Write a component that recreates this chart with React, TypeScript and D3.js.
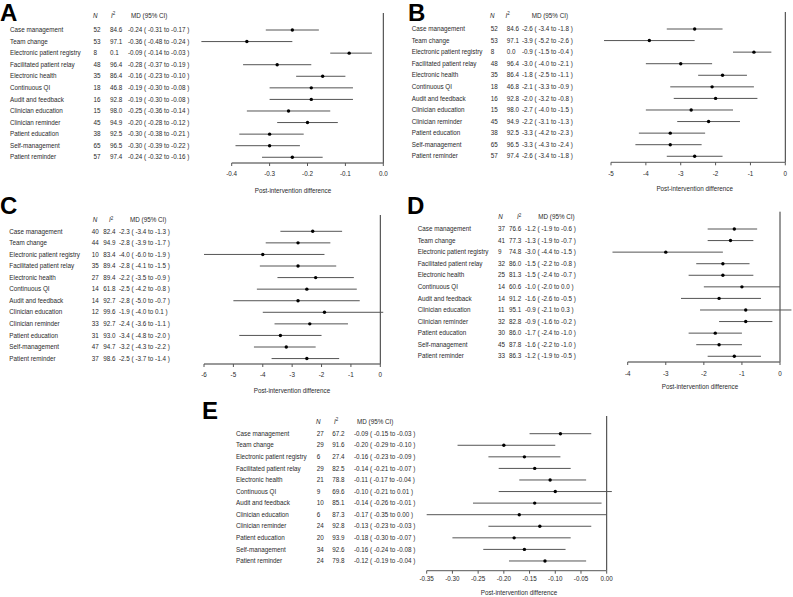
import * as d3 from 'd3';

// shared row labels
const categories = [
  'Case management',
  'Team change',
  'Electronic patient registry',
  'Facilitated patient relay',
  'Electronic health',
  'Continuous QI',
  'Audit and feedback',
  'Clinician education',
  'Clinician reminder',
  'Patient education',
  'Self-management',
  'Patient reminder',
];

// Panel A
const nA = [52, 53, 8, 48, 35, 18, 16, 15, 45, 38, 65, 57];
const i2A = [84.6, 97.1, 0.1, 96.4, 86.4, 46.8, 92.8, 98.0, 94.9, 92.5, 96.5, 97.4];
const mdA = [-0.24, -0.36, -0.09, -0.28, -0.16, -0.19, -0.19, -0.25, -0.2, -0.3, -0.3, -0.24];
const loA = [-0.31, -0.48, -0.14, -0.37, -0.23, -0.3, -0.3, -0.36, -0.28, -0.38, -0.39, -0.32];
const hiA = [-0.17, -0.24, -0.03, -0.19, -0.1, -0.08, -0.08, -0.14, -0.12, -0.21, -0.22, -0.16];
const ticksA = [-0.4, -0.3, -0.2, -0.1, 0];

// Panel B
const nB = [52, 53, 8, 48, 35, 18, 16, 15, 45, 38, 65, 57];
const i2B = [84.6, 97.1, 0.0, 96.4, 86.4, 46.8, 92.8, 98.0, 94.9, 92.5, 96.5, 97.4];
const mdB = [-2.6, -3.9, -0.9, -3.0, -1.8, -2.1, -2.0, -2.7, -2.2, -3.3, -3.3, -2.6];
const loB = [-3.4, -5.2, -1.5, -4.0, -2.5, -3.3, -3.2, -4.0, -3.1, -4.2, -4.3, -3.4];
const hiB = [-1.8, -2.6, -0.4, -2.1, -1.1, -0.9, -0.8, -1.5, -1.3, -2.3, -2.4, -1.8];
const ticksB = [-5, -4, -3, -2, -1, 0];

// Panel C
const nC = [40, 44, 10, 35, 27, 14, 14, 12, 33, 31, 47, 37];
const i2C = [82.4, 94.9, 83.4, 89.4, 89.4, 61.8, 92.7, 99.6, 92.7, 93.0, 94.7, 98.6];
const mdC = [-2.3, -2.8, -4.0, -2.8, -2.2, -2.5, -2.8, -1.9, -2.4, -3.4, -3.2, -2.5];
const loC = [-3.4, -3.9, -6.0, -4.1, -3.5, -4.2, -5.0, -4.0, -3.6, -4.8, -4.3, -3.7];
const hiC = [-1.3, -1.7, -1.9, -1.5, -0.9, -0.8, -0.7, 0.1, -1.1, -2.0, -2.2, -1.4];
const ticksC = [-6, -5, -4, -3, -2, -1, 0];

// Panel D
const nD = [37, 41, 9, 32, 25, 14, 14, 11, 32, 30, 45, 33];
const i2D = [76.6, 77.3, 74.8, 86.0, 81.3, 60.6, 91.2, 95.1, 82.8, 86.0, 87.8, 86.3];
const mdD = [-1.2, -1.3, -3.0, -1.5, -1.5, -1.0, -1.6, -0.9, -0.9, -1.7, -1.6, -1.2];
const loD = [-1.9, -1.9, -4.4, -2.2, -2.4, -2.0, -2.6, -2.1, -1.6, -2.4, -2.2, -1.9];
const hiD = [-0.6, -0.7, -1.5, -0.8, -0.7, 0.0, -0.5, 0.3, -0.2, -1.0, -1.0, -0.5];
const ticksD = [-4, -3, -2, -1, 0];

// Panel E
const nE = [27, 29, 6, 29, 21, 9, 10, 6, 24, 20, 34, 24];
const i2E = [67.2, 91.6, 27.4, 82.5, 78.8, 69.6, 85.1, 87.3, 92.8, 93.9, 92.6, 79.8];
const mdE = [-0.09, -0.2, -0.16, -0.14, -0.11, -0.1, -0.14, -0.17, -0.13, -0.18, -0.16, -0.12];
const loE = [-0.15, -0.29, -0.23, -0.21, -0.17, -0.21, -0.26, -0.35, -0.23, -0.3, -0.24, -0.19];
const hiE = [-0.03, -0.1, -0.09, -0.07, -0.04, 0.01, -0.01, 0.0, -0.03, -0.07, -0.08, -0.04];
const ticksE = [-0.35, -0.3, -0.25, -0.2, -0.15, -0.1, -0.05, 0];

const FONT = '"Liberation Sans", Arial, sans-serif';
const FS = 6.3;
const ROW = 11.57;
const TXT = '#2a2a2a';

interface Layout {
  letter: string;
  letterX: number;
  letterY: number;
  labelX: number;
  nX: number;
  i2X: number;
  mdX: number;
  hN: number;
  hI: number;
  hMD: number;
  headerY: number;
  row1: number;
  domain: [number, number];
  range: [number, number];
  axisY: number;
  zeroTop: number;
  tickY: number;
  titleX: number;
  titleY: number;
  dec: number;
  tickDec: number;
}

interface PanelProps {
  layout: Layout;
  n: number[];
  i2: number[];
  md: number[];
  lo: number[];
  hi: number[];
  ticks: number[];
}

function Panel({ layout: L, n, i2, md, lo, hi, ticks }: PanelProps) {
  const x = d3.scaleLinear().domain(L.domain).range(L.range);
  const y = d3
    .scalePoint<string>()
    .domain(categories)
    .range([L.row1, L.row1 + ROW * (categories.length - 1)]);
  const f = (v: number) => v.toFixed(L.dec);

  return (
    <g fontFamily={FONT}>
      <text x={L.letterX} y={L.letterY} fontSize={24} fontWeight={700} fill="#000">
        {L.letter}
      </text>

      {/* header */}
      <g fontSize={FS} fill={TXT}>
        <text x={L.hN} y={L.headerY} dy="0.35em" fontStyle="italic">N</text>
        <text x={L.hI} y={L.headerY} dy="0.35em">
          <tspan fontStyle="italic">I</tspan>
          <tspan fontSize={4.5} dy={-2.5}>2</tspan>
        </text>
        <text x={L.hMD} y={L.headerY} dy="0.35em">MD (95% CI)</text>
      </g>

      {/* rows */}
      <g fontSize={FS} fill={TXT}>
        {categories.map((c, i) => (
          <g key={c}>
            <text x={L.labelX} y={y(c)} dy="0.35em">{c}</text>
            <text x={L.nX} y={y(c)} dy="0.35em">{n[i]}</text>
            <text x={L.i2X} y={y(c)} dy="0.35em">{i2[i].toFixed(1)}</text>
            <text x={L.mdX} y={y(c)} dy="0.35em">
              {`${f(md[i])} ( ${f(lo[i])} to ${f(hi[i])} )`}
            </text>
          </g>
        ))}
      </g>

      {/* zero line */}
      <line x1={x(0)} x2={x(0)} y1={L.zeroTop} y2={L.axisY} stroke="#333" strokeWidth={1} />

      {/* CIs and points */}
      {categories.map((c, i) => (
        <g key={c}>
          <line
            x1={x(lo[i])}
            x2={x(hi[i])}
            y1={y(c)}
            y2={y(c)}
            stroke="#555"
            strokeWidth={1}
          />
          <circle cx={x(md[i])} cy={y(c)} r={1.7} fill="#000" />
        </g>
      ))}

      {/* x axis */}
      <line
        x1={L.range[0]}
        x2={L.range[1]}
        y1={L.axisY}
        y2={L.axisY}
        stroke="#777"
        strokeWidth={1.3}
      />
      {ticks.map((t) => (
        <g key={t}>
          <line x1={x(t)} x2={x(t)} y1={L.axisY} y2={L.axisY + 3} stroke="#555" strokeWidth={1} />
          <text
            x={x(t)}
            y={L.tickY}
            dy="0.35em"
            textAnchor="middle"
            fontSize={FS}
            fill={TXT}
          >
            {t.toFixed(L.tickDec)}
          </text>
        </g>
      ))}
      <text
        x={L.titleX}
        y={L.titleY}
        dy="0.35em"
        textAnchor="middle"
        fontSize={FS}
        fill={TXT}
      >
        Post-intervention difference
      </text>
    </g>
  );
}

const layoutA: Layout = {
  letter: 'A', letterX: 0, letterY: 21, labelX: 10, nX: 93.5, i2X: 110, mdX: 128,
  hN: 93, hI: 111, hMD: 131, headerY: 15.7, row1: 30, domain: [-0.4, 0], range: [231.7, 383.3],
  axisY: 163, zeroTop: 13, tickY: 174, titleX: 293, titleY: 190.7, dec: 2, tickDec: 1,
};
const layoutB: Layout = {
  letter: 'B', letterX: 408, letterY: 20.5, labelX: 411.7, nX: 490.7, i2X: 506.7, mdX: 522,
  hN: 490, hI: 505.5, hMD: 531.7, headerY: 15.7, row1: 29, domain: [-5, 0], range: [611, 785.3],
  axisY: 162.3, zeroTop: 12, tickY: 174, titleX: 694.7, titleY: 188.7, dec: 1, tickDec: 0,
};
const layoutC: Layout = {
  letter: 'C', letterX: 0, letterY: 213.5, labelX: 9.3, nX: 91.7, i2X: 103.3, mdX: 119,
  hN: 92.7, hI: 109, hMD: 130, headerY: 220, row1: 231.3, domain: [-6, 0], range: [204, 380.3],
  axisY: 364, zeroTop: 215, tickY: 374.7, titleX: 292, titleY: 391, dec: 1, tickDec: 0,
};
const layoutD: Layout = {
  letter: 'D', letterX: 407, letterY: 213.5, labelX: 417.7, nX: 498, i2X: 509, mdX: 525,
  hN: 498.3, hI: 517, hMD: 538.3, headerY: 217, row1: 229, domain: [-4, 0], range: [627.7, 780],
  axisY: 362, zeroTop: 211.7, tickY: 373.7, titleX: 700, titleY: 387, dec: 1, tickDec: 0,
};
const layoutE: Layout = {
  letter: 'E', letterX: 202, letterY: 419, labelX: 236, nX: 316.7, i2X: 332.3, mdX: 354,
  hN: 316, hI: 334, hMD: 357, headerY: 421.5, row1: 433.7, domain: [-0.35, 0], range: [426.7, 606.7],
  axisY: 570.7, zeroTop: 416, tickY: 578.7, titleX: 519, titleY: 593, dec: 2, tickDec: 2,
};

export default function App() {
  return (
    <svg
      width={793}
      height={597}
      style={{ position: 'absolute', left: 0, top: 0, background: '#fff' }}
    >
      <rect width={793} height={597} fill="#fff" />
      <Panel layout={layoutA} n={nA} i2={i2A} md={mdA} lo={loA} hi={hiA} ticks={ticksA} />
      <Panel layout={layoutB} n={nB} i2={i2B} md={mdB} lo={loB} hi={hiB} ticks={ticksB} />
      <Panel layout={layoutC} n={nC} i2={i2C} md={mdC} lo={loC} hi={hiC} ticks={ticksC} />
      <Panel layout={layoutD} n={nD} i2={i2D} md={mdD} lo={loD} hi={hiD} ticks={ticksD} />
      <Panel layout={layoutE} n={nE} i2={i2E} md={mdE} lo={loE} hi={hiE} ticks={ticksE} />
    </svg>
  );
}
